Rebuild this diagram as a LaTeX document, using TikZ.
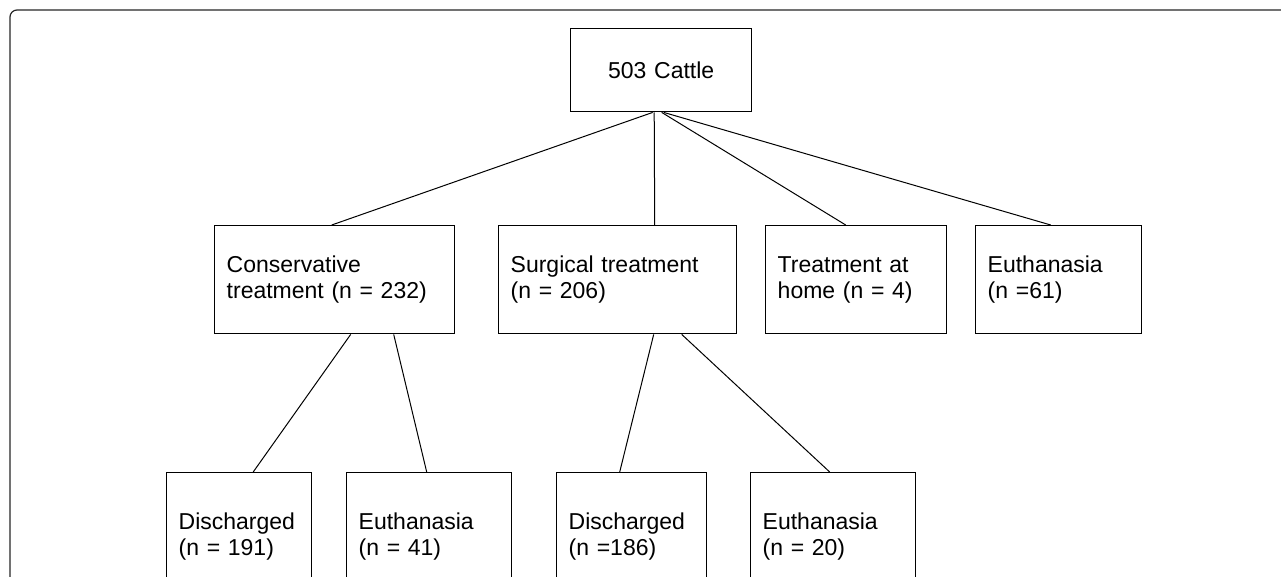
\documentclass[tikz,border=0pt]{standalone}
\usepackage{fontspec}
\setmainfont{Liberation Sans}
\begin{document}
\begin{tikzpicture}[x=1pt,y=-1pt,
  box/.style={draw=black, line width=1.4pt, rectangle, inner xsep=12pt, inner ysep=0pt,
    align=left, font=\fontsize{23}{26}\selectfont, anchor=north west},
  link/.style={draw=black, line width=1pt}]
\useasboundingbox (0,0) rectangle (1281,576);
\clip (0,0) rectangle (1281,576);
\draw[line width=1.2pt, rounded corners=7pt, draw=black!85] (10,10) rectangle (1330,640);
% level 0
\node[box, text width=157pt, minimum height=83pt, align=center] (cattle) at (570,28) {503 Cattle};
% level 1
\node[box, text width=216pt, minimum height=108pt] (cons) at (214,225) {Conservative\\treatment (n = 232)};
\node[box, text width=214pt, minimum height=108pt] (surg) at (498,225) {Surgical treatment\\(n = 206)};
\node[box, text width=157pt, minimum height=108pt] (home) at (765,225) {Treatment at\\home (n = 4)};
\node[box, text width=142pt, minimum height=108pt] (eut61) at (975,225) {Euthanasia\\(n =61)};
% level 2
\node[box, text width=121pt, minimum height=128pt] (dis191) at (166,472) {Discharged\\(n = 191)};
\node[box, text width=141pt, minimum height=128pt] (eut41) at (346,472) {Euthanasia\\(n = 41)};
\node[box, text width=126pt, minimum height=128pt] (dis186) at (556,472) {Discharged\\(n =186)};
\node[box, text width=141pt, minimum height=128pt] (eut20) at (750,472) {Euthanasia\\(n = 20)};
% connectors
\draw[link] ([xshift=-8.5pt]cattle.south) -- ([xshift=-3pt]cons.north);
\draw[link] ([xshift=-7pt]cattle.south) -- ([xshift=37pt]surg.north);
\draw[link] ([xshift=0.5pt]cattle.south) -- ([xshift=-10.5pt]home.north);
\draw[link] ([xshift=2.5pt]cattle.south) -- ([xshift=-8pt]eut61.north);
\draw[link] ([xshift=16pt]cons.south) -- ([xshift=14pt]dis191.north);
\draw[link] ([xshift=59pt]cons.south) -- ([xshift=-2.5pt]eut41.north);
\draw[link] ([xshift=36pt]surg.south) -- ([xshift=-12pt]dis186.north);
\draw[link] ([xshift=64pt]surg.south) -- ([xshift=-3.5pt]eut20.north);
\end{tikzpicture}
\end{document}
